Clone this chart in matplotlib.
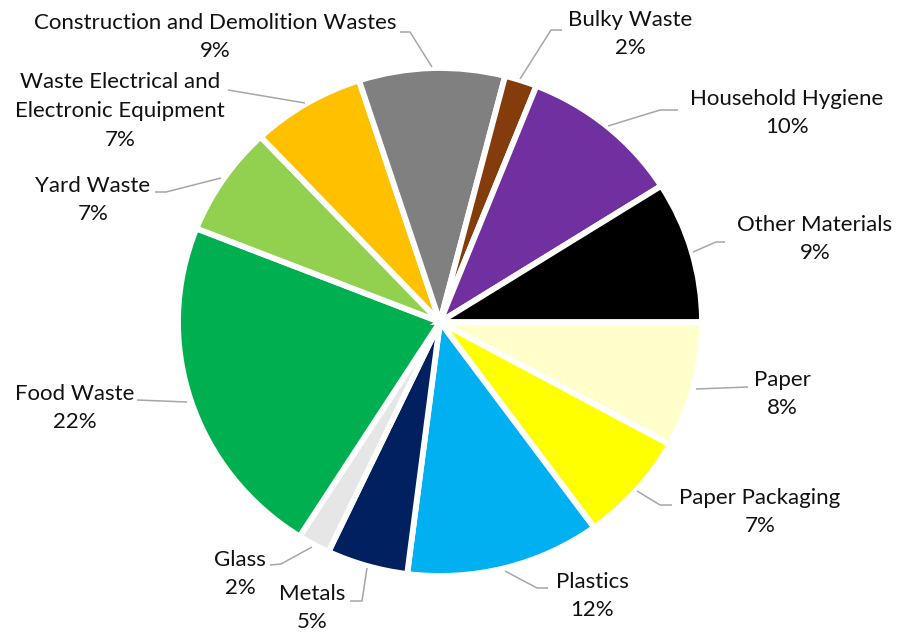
import matplotlib.pyplot as plt

# waste composition, clockwise from 3 o'clock
categories = ['Paper', 'Paper Packaging', 'Plastics', 'Metals', 'Glass',
              'Food Waste', 'Yard Waste',
              'Waste Electrical and\nElectronic Equipment',
              'Construction and Demolition Wastes', 'Bulky Waste',
              'Household Hygiene', 'Other Materials']
shares = [8, 7, 12, 5, 2, 22, 7, 7, 9, 2, 10, 9]
colors = ['#FFFFCC', '#FFFF00', '#00B0F0', '#002060', '#E7E6E6',
          '#00B050', '#92D050', '#FFC000', '#808080', '#843C0C',
          '#7030A0', '#000000']

# label block centres and leader lines, in pixels
label_pos = [(782, 394), (760, 512), (592, 596), (312, 608), (240, 574),
             (75, 408), (93, 200), (120, 111), (215, 37), (630, 34),
             (787, 113), (815, 239)]
leaders = [
    [(748, 387), (696, 389)],
    [(672, 505), (660, 505), (637, 491)],
    [(548, 588), (537, 588), (505, 571)],
    [(350, 601), (362, 601), (367, 568)],
    [(270, 565), (281, 564), (312, 547)],
    [(137, 400), (187, 402)],
    [(155, 192), (166, 192), (221, 178)],
    [(228, 90), (305, 103)],
    [(400, 32), (410, 32), (432, 67)],
    [(562, 30), (551, 30), (520, 79)],
    [(678, 110), (660, 110), (608, 126)],
    [(725, 242), (716, 242), (693, 252)],
]

W, H = 898, 633
CX, CY, RX, RY = 440, 322, 262, 254


def px(x, y):
    return (x - CX) / RX, (CY - y) / RY


plt.rcParams['font.family'] = ['Lato', 'DejaVu Sans']
fig = plt.figure(figsize=(W / 100, H / 100), dpi=100)
ax = fig.add_axes([0, 0, 1, 1])

ax.pie(shares, colors=colors, startangle=0, counterclock=False, radius=1.0,
       wedgeprops=dict(edgecolor='white', linewidth=4.2))

ax.set_aspect('auto')
ax.set_xlim(-CX / RX, (W - CX) / RX)
ax.set_ylim((CY - H) / RY, CY / RY)
ax.axis('off')

for name, val, pos, line in zip(categories, shares, label_pos, leaders):
    pts = [px(*p) for p in line]
    ax.plot([p[0] for p in pts], [p[1] for p in pts], color='#A6A6A6',
            lw=1.1, solid_capstyle='butt')
    ax.text(*px(*pos), f'{name}\n{val}%', ha='center', va='center',
            fontsize=16, linespacing=1.55, color='#111111')

fig.savefig('out.png', dpi=100, facecolor='white')
